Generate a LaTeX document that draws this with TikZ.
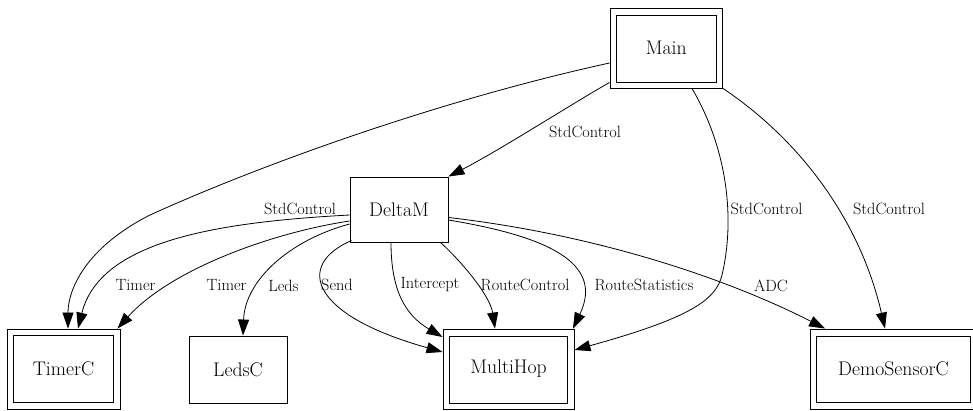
\documentclass[tikz,border=0pt]{standalone}
\usetikzlibrary{arrows.meta,calc}
\begin{document}
\begin{tikzpicture}[x=1pt,y=-1pt,
  box/.style={draw, line width=0.9pt, inner sep=0pt, font=\fontsize{19.7}{22}\selectfont},
  inbox/.style={line width=0.9pt},
  lbl/.style={font=\fontsize{16.3}{19}\selectfont, inner sep=0pt},
  conn/.style={line width=0.8pt, -{Triangle[length=16pt,width=11pt]}}]
\useasboundingbox (0,0) rectangle (973,410);
\clip (0,0) rectangle (973,410);
% nodes
\node[box, minimum width=112.5pt, minimum height=80pt] (main) at (666.25,48) {Main};
\node[box, minimum width=98pt, minimum height=65pt] (delta) at (399,209.5) {DeltaM};
\node[box, minimum width=113pt, minimum height=80pt] (timer) at (63.5,369) {TimerC};
\node[box, minimum width=98pt, minimum height=67pt] (leds) at (238,369.5) {LedsC};
\node[box, minimum width=131pt, minimum height=80pt] (multi) at (508.5,369) {MultiHop};
\node[box, minimum width=166pt, minimum height=80pt] (demo) at (893.5,369) {DemoSensorC};
% inner borders of the double boxes
\draw[inbox] ($(main.north west)+(7,7.5)$) rectangle ($(main.south east)+(-7,-6.5)$);
\draw[inbox] ($(timer.north west)+(6.5,7)$) rectangle ($(timer.south east)+(-7,-7)$);
\draw[inbox] ($(multi.north west)+(7,7.5)$) rectangle ($(multi.south east)+(-7,-6.5)$);
\draw[inbox] ($(demo.north west)+(6.5,7.5)$) rectangle ($(demo.south east)+(-7,-7)$);
% connectors
\draw[conn] ($(main.west)+(0,15)$) .. controls (440,100) and (260,165) .. (150,215)
   .. controls (85,248) and (68,290) .. ($(timer.north)+(4.5,0)$);
\draw[conn] ($(delta.west)+(0,5.5)$) .. controls (220,222) and (100,240) .. ($(timer.north)+(14.5,0)$);
\draw[conn] ($(delta.west)+(0,11.5)$) .. controls (270,233) and (170,270) .. ($(timer.north east)+(-3,0)$);
\draw[conn] ($(delta.west)+(0,14.5)$) .. controls (290,240) and (245,280) .. ($(leds.north)+(5,0)$);
\draw[conn] ($(delta.south west)+(2,-2)$) .. controls (295,265) and (310,315) .. ($(multi.west)+(0,-17)$);
\draw[conn] ($(delta.south)+(-8,0)$) .. controls (391,290) and (405,315) .. ($(multi.west)+(0,-32)$);
\draw[conn] ($(delta.south east)+(-8,0)$) .. controls (460,260) and (490,295) .. ($(multi.north)+(-13.5,0)$);
\draw[conn] ($(delta.east)+(0,10.5)$) .. controls (545,236) and (605,262) .. ($(multi.north east)+(-1.5,0)$);
\draw[conn] ($(delta.east)+(0,8)$) .. controls (600,235) and (730,280) .. ($(demo.north west)+(15,0)$);
\draw[conn] ($(main.south)+(25.75,0)$) .. controls (728,150) and (735,220) .. (722,275)
   .. controls (716,300) and (690,318) .. ($(multi.east)+(0,-19)$);
\draw[conn] (main.south east) .. controls (800,140) and (860,220) .. ($(demo.north)+(-8.5,0)$);
\draw[conn] ($(main.south west)+(0,-6)$) .. controls (570,105) and (500,150) .. (delta.north east);
% labels
\node[lbl] (l1) at (585,132) {StdControl};
\node[lbl] (l2) at (300,209) {StdControl};
\node[lbl] (l3) at (135.5,285) {Timer};
\node[lbl] (l4) at (226.5,285) {Timer};
\node[lbl] (l5) at (283.5,286) {Leds};
\node[lbl] (l6) at (337,285) {Send};
\node[lbl] (l7) at (430,285) {Intercept};
\node[lbl] (l8) at (525,285) {RouteControl};
\node[lbl] (l9) at (644,285) {RouteStatistics};
\node[lbl] (l10) at (771,286) {ADC};
\node[lbl] (l11) at (766.5,209) {StdControl};
\node[lbl] (l12) at (889,209) {StdControl};
\end{tikzpicture}
\end{document}
